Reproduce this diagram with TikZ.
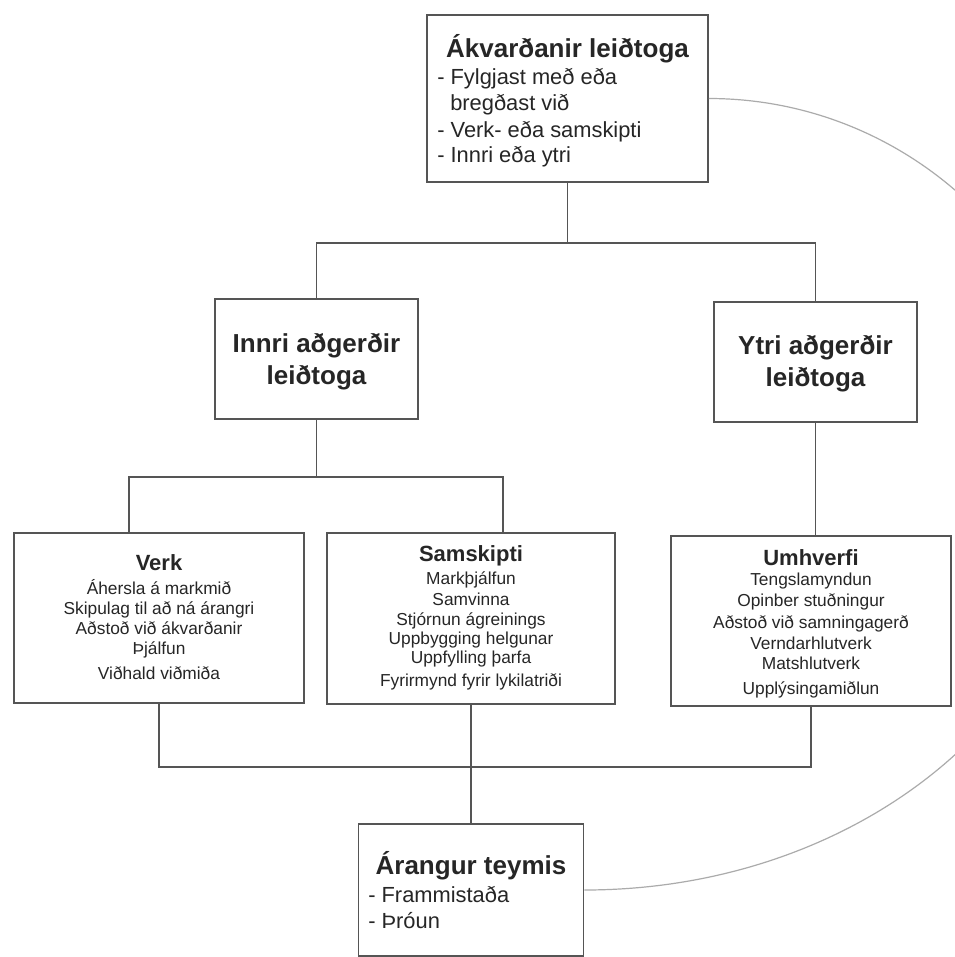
\documentclass[tikz,border=0pt]{standalone}
\usepackage{fontspec}
\setmainfont{Liberation Sans}
\usetikzlibrary{calc}
\definecolor{linec}{HTML}{555555}
\definecolor{txt}{HTML}{262626}
\definecolor{arcc}{HTML}{ABABAB}
\begin{document}
\begin{tikzpicture}[x=0.75pt,y=-0.75pt,
  box/.style={draw=linec,line width=1.2pt,inner sep=0pt,fill=white},
  conn/.style={draw=linec,line width=0.9pt},
  arcline/.style={draw=arcc,line width=0.9pt},
  ttl/.style={font=\fontsize{19.5}{22}\selectfont\bfseries,text=txt,inner sep=0pt,anchor=base},
  sub/.style={font=\fontsize{16.5}{19}\selectfont\bfseries,text=txt,inner sep=0pt,anchor=base},
  itm/.style={font=\fontsize{13}{15}\selectfont,text=txt,inner sep=0pt,anchor=base},
  bodyl/.style={font=\fontsize{16.4}{19}\selectfont,text=txt,inner sep=0pt,anchor=base west}]
\useasboundingbox (0,0) rectangle (954,957);
\fill[white] (0,0) rectangle (954,957);

% boxes
\node[box,minimum width=210.75pt,minimum height=125.25pt] (top) at (567.5,98.5) {};
\node[box,minimum width=152.25pt,minimum height=90pt] (innri) at (316.5,359) {};
\node[box,minimum width=152.25pt,minimum height=90pt] (ytri) at (815.5,362) {};
\node[box,minimum width=217.5pt,minimum height=127.5pt] (verk) at (159,618) {};
\node[box,minimum width=216pt,minimum height=128.25pt] (sams) at (471,618.5) {};
\node[box,minimum width=210pt,minimum height=127.5pt] (umh) at (811,621) {};
\node[box,minimum width=168.75pt,minimum height=99pt] (bot) at (471,890) {};

% texts
\node[ttl] (topT) at (567.5,57) {Ákvarðanir leiðtoga};
\node[bodyl] (topL1) at (437,84) {- Fylgjast með eða};
\node[bodyl] (topL2) at (450,110) {bregðast við};
\node[bodyl] (topL3) at (437,137) {- Verk- eða samskipti};
\node[bodyl] (topL4) at (437,162) {- Innri eða ytri};

\node[ttl] (innT1) at (316.5,352) {Innri aðgerðir};
\node[ttl] (innT2) at (316.5,384) {leiðtoga};
\node[ttl] (ytrT1) at (815.5,354) {Ytri aðgerðir};
\node[ttl] (ytrT2) at (815.5,386) {leiðtoga};

\node[sub] (verkT) at (159,570) {Verk};
\foreach \t/\y/\n in {Áhersla á markmið/594/1,Skipulag til að ná árangri/614/2,Aðstoð við ákvarðanir/634/3,Þjálfun/654/4,Viðhald viðmiða/679/5}
  \node[itm] (verk\n) at (159,\y) {\t};

\node[sub] (samsT) at (471,561) {Samskipti};
\foreach \t/\y/\n in {Markþjálfun/584/1,Samvinna/605/2,Stjórnun ágreinings/625/3,Uppbygging helgunar/644/4,Uppfylling þarfa/663/5,Fyrirmynd fyrir lykilatriði/686/6}
  \node[itm] (sams\n) at (471,\y) {\t};

\node[sub] (umhT) at (811,565) {Umhverfi};
\foreach \t/\y/\n in {Tengslamyndun/585/1,Opinber stuðningur/606/2,Aðstoð við samningagerð/628/3,Verndarhlutverk/649/4,Matshlutverk/669/5,Upplýsingamiðlun/694/6}
  \node[itm] (umh\n) at (811,\y) {\t};

\node[ttl] (botT) at (471,874) {Árangur teymis};
\node[bodyl] (botL1) at (368,902) {- Frammistaða};
\node[bodyl] (botL2) at (368,928) {- Þróun};

% connectors
\coordinate (busA) at (0,243);
\coordinate (busB) at (0,477);
\coordinate (busC) at (0,767);
\coordinate (verkIn) at ($(verk.north)+(-30,0)$);
\coordinate (samsIn) at ($(sams.north)+(32,0)$);
\draw[conn] (top.south) -- (top.south |- busA);
\draw[conn] (innri.north) -- (innri.north |- busA) -- (ytri.north |- busA) -- (ytri.north);
\draw[conn] (innri.south) -- (innri.south |- busB);
\draw[conn] (verkIn) -- (verkIn |- busB) -- (samsIn |- busB) -- (samsIn);
\draw[conn] (ytri.south) -- (ytri.south |- umh.north);
\draw[conn] (verk.south) -- (verk.south |- busC) -- (umh.south |- busC) -- (umh.south);
\draw[conn] (sams.south) -- (bot.north);

% feedback arc
\coordinate (far) at (1086,474);
\draw[arcline] (top.east) .. controls +(207,0) and +(0,-207) .. (far)
  .. controls +(0,230) and +(278,0) .. (bot.east);
\end{tikzpicture}
\end{document}
